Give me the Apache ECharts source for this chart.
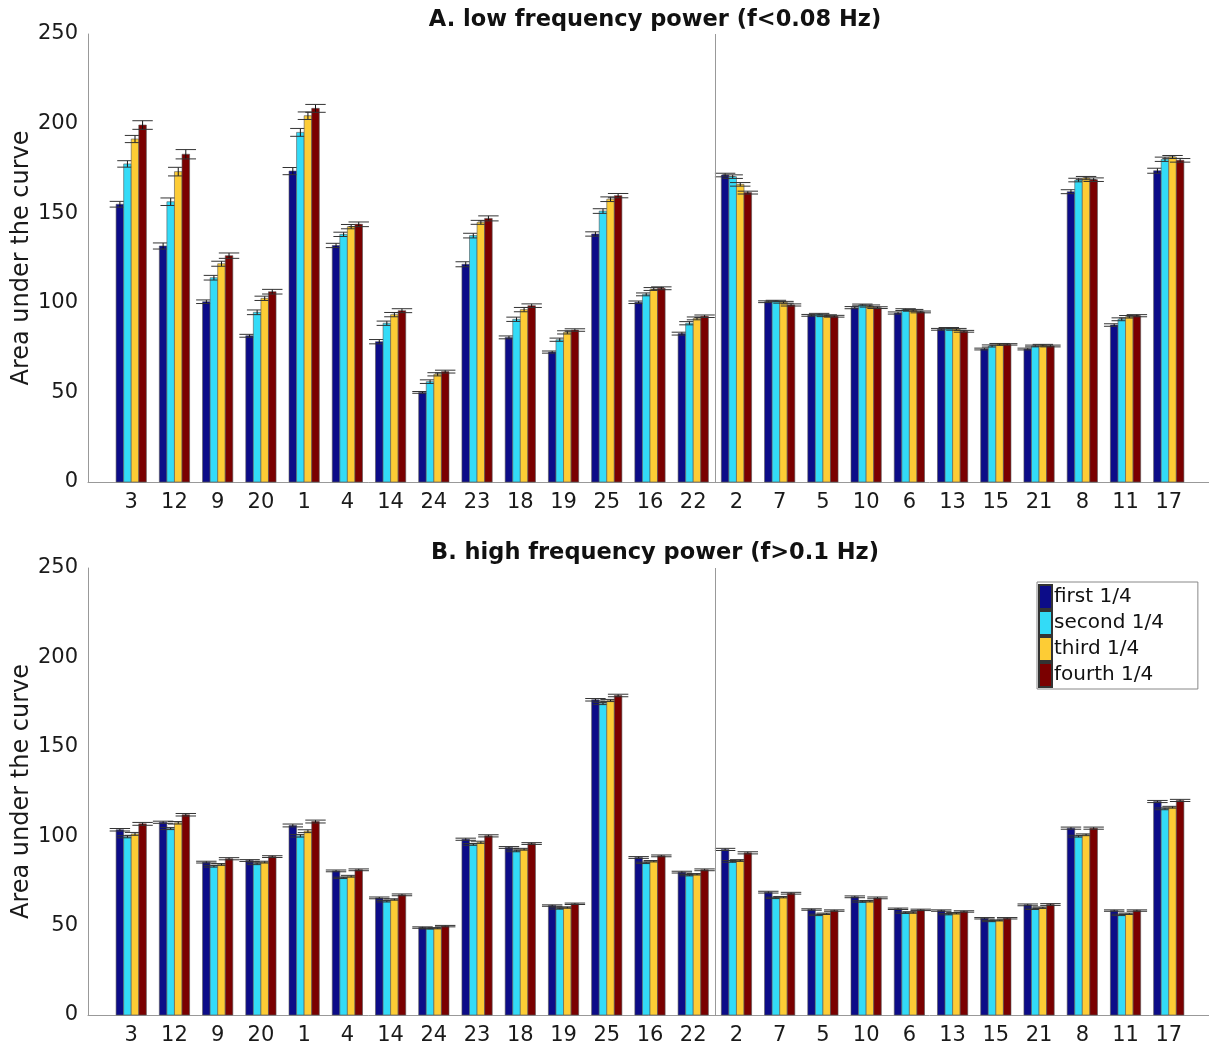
<!DOCTYPE html>
<html>
<head>
<meta charset="utf-8">
<script src="https://cdn.jsdelivr.net/npm/echarts@6/dist/echarts.min.js"></script>
<style>html,body{margin:0;padding:0;background:#fff}#c{width:1209px;height:1048px}</style>
</head>
<body>
<div id="c"></div>
<script>
var categories = ['3','12','9','20','1','4','14','24','23','18','19','25','16','22','2','7','5','10','6','13','15','21','8','11','17'];
var seriesNames = ['first 1/4','second 1/4','third 1/4','fourth 1/4'];
var seriesColors = ['#0c0c88','#33dbf7','#fdcc35','#7a0000'];
var yTicks = [0,50,100,150,200,250];
var dividerX = 14.5;
var titleA = 'A. low frequency power (f<0.08 Hz)';
var titleB = 'B. high frequency power (f>0.1 Hz)';
var yName = 'Area under the curve';

// Panel A: low frequency power
var lowQ1 = [155,131.7,100.6,81.6,173.5,132,78.3,50,121.5,80.7,72.5,138.4,100.3,82.8,171.3,100.6,93,97.3,94.3,85.2,74.2,74.2,162,87.6,173.7];
var lowQ2 = [177.5,156.4,114,94.7,195.1,138.2,88.6,56,137.5,90.8,79.4,151.2,104.7,88.6,170.4,101,93.6,98.8,96.2,85.8,75.9,75.9,168.5,90.8,180.1];
var lowQ3 = [191.4,173.2,121.8,102.5,204.4,142.5,93.4,60.1,144.9,96.2,83.5,157.8,107.7,91.3,166.1,100.3,92.8,98.2,95.8,85.2,76.8,76.3,169.6,92.2,181.4];
var lowQ4 = [199.2,182.9,126.3,106.2,208.5,143.8,95.6,61.6,147.1,98.4,84.8,159.8,108.1,92.5,161.5,98.8,92.5,97.3,94.9,84.1,76.8,75.9,168.7,92.8,179.5];
var lowE1 = [1.6,1.7,1,0.8,2,1.2,1.2,0.5,1.4,0.8,0.6,1.2,0.7,0.8,1,0.5,0.5,0.6,0.6,0.5,0.5,0.5,1.1,0.7,1.4];
var lowE2 = [1.8,2.1,1.3,1.3,2.2,1.2,1.2,1,1.3,1.2,0.9,1.3,0.8,0.9,1,0.4,0.5,0.5,0.5,0.4,0.6,0.5,1,0.8,1.2];
var lowE3 = [2,2.4,1.4,1.2,2.1,1.2,1.2,0.9,1.1,1.2,0.9,1.3,0.8,0.8,1,0.5,0.5,0.6,0.5,0.5,0.5,0.5,0.9,0.7,0.8];
var lowE4 = [2.4,2.6,1.5,1.3,2.2,1.3,1.1,0.8,1.4,1,0.7,1.2,0.8,0.7,0.8,0.6,0.5,0.5,0.5,0.5,0.4,0.5,1,0.6,1];

// Panel B: high frequency power
var highQ1 = [103.6,107.8,85.5,86.4,106,80.6,65.5,48.9,98.3,93.7,61.2,176.3,88.1,79.9,92.6,68.7,59,66.1,59.4,58.4,54.1,61.6,104.5,58.4,119.4];
var highQ2 = [99.7,104.3,83.2,84.6,100.2,76.7,63.6,48.4,95.4,91.8,59.6,174.2,85.1,78.2,85.9,65.5,56,63.5,57.2,56.4,52.5,59.4,100,56,115.3];
var highQ3 = [101.3,107.5,84.2,85.5,102.8,77.6,64.6,48.5,96.6,92.7,60.1,175.9,86,78.7,86.4,65.9,56.6,63.6,57.3,56.9,52.9,60,100.8,56.6,116.2];
var highQ4 = [106.9,112,87.4,88.6,108.2,81.2,67.2,49.7,100.2,95.9,62.2,178.7,89,81.2,90.7,68.1,58.4,65.5,58.8,57.9,54.1,61.8,104.5,58.4,120];
var highE1 = [0.7,0.6,0.5,0.5,0.8,0.5,0.5,0.4,0.6,0.5,0.4,0.7,0.5,0.5,0.6,0.5,0.4,0.5,0.4,0.4,0.4,0.5,0.6,0.4,0.6];
var highE2 = [0.6,0.6,0.5,0.5,0.7,0.4,0.4,0.3,0.5,0.5,0.4,0.6,0.4,0.4,0.5,0.4,0.4,0.4,0.4,0.4,0.3,0.4,0.5,0.4,0.5];
var highE3 = [0.8,0.7,0.5,0.5,0.8,0.5,0.4,0.3,0.6,0.5,0.4,0.6,0.4,0.4,0.5,0.4,0.4,0.4,0.4,0.4,0.3,0.4,0.5,0.4,0.5];
var highE4 = [0.8,0.7,0.6,0.5,0.8,0.5,0.5,0.4,0.6,0.5,0.4,0.7,0.5,0.5,0.6,0.5,0.4,0.5,0.4,0.4,0.4,0.5,0.6,0.4,0.6];

var FONT = 'DejaVu Sans, Liberation Sans, sans-serif';
var BAR_W = 0.175;          // bar width in x-units
var OFFSETS = [-1.5,-0.5,0.5,1.5];

function makeData(vals, errs){
  return vals.map(function(v,i){ return [i+1, v, errs[i]]; });
}

function makeRender(k){
  return function(params, api){
    var x = api.value(0) + OFFSETS[k]*BAR_W;
    var v = api.value(1), e = api.value(2);
    var top = api.coord([x, v]);
    var base = api.coord([x, 0]);
    var w = api.size([BAR_W, 0])[0];
    var hi = api.coord([x, v + e]);
    var lo = api.coord([x, v - e]);
    var capHalf = w * 1.35;
    var st = api.style();
    return {
      type: 'group',
      children: [
        {type:'rect', shape:{x: top[0]-w/2, y: top[1], width: w, height: base[1]-top[1]},
         style:{fill: st.fill, stroke:'#555', lineWidth:0.6}},
        {type:'line', shape:{x1: hi[0], y1: hi[1], x2: lo[0], y2: lo[1]}, style:{stroke:'#111', lineWidth:1}},
        {type:'line', shape:{x1: hi[0]-capHalf, y1: hi[1], x2: hi[0]+capHalf, y2: hi[1]}, style:{stroke:'#333', lineWidth:1}},
        {type:'line', shape:{x1: lo[0]-capHalf, y1: lo[1], x2: lo[0]+capHalf, y2: lo[1]}, style:{stroke:'#333', lineWidth:1}}
      ]
    };
  };
}

var lowSets = [[lowQ1,lowE1],[lowQ2,lowE2],[lowQ3,lowE3],[lowQ4,lowE4]];
var highSets = [[highQ1,highE1],[highQ2,highE2],[highQ3,highE3],[highQ4,highE4]];

var series = [];
[lowSets, highSets].forEach(function(sets, g){
  sets.forEach(function(s, k){
    var ser = {
      type:'custom', name: seriesNames[k], xAxisIndex:g, yAxisIndex:g,
      itemStyle:{color: seriesColors[k], borderColor:'#333', borderWidth:0.6},
      renderItem: makeRender(k), data: makeData(s[0], s[1]), clip:false,
      encode:{x:0, y:1}
    };
    if(k === 0){
      ser.markLine = {silent:true, symbol:['none','none'], label:{show:false},
        lineStyle:{color:'#999', width:1, type:'solid'},
        data:[[{xAxis: dividerX, yAxis: yTicks[0]},{xAxis: dividerX, yAxis: yTicks[yTicks.length-1]}]]};
    }
    series.push(ser);
  });
});

function xAxis(g){
  return {
    type:'value', gridIndex:g, min:0, max:26, interval:1,
    axisLine:{show:true, lineStyle:{color:'#999', width:1}},
    axisTick:{show:false}, splitLine:{show:false},
    axisLabel:{margin:10, fontSize:21, color:'#1a1a1a', fontFamily:FONT,
      formatter:function(v){ var i = Math.round(v); return (i>=1 && i<=categories.length) ? categories[i-1] : ''; }}
  };
}
function yAxis(g){
  return {
    type:'value', gridIndex:g, min:yTicks[0], max:yTicks[yTicks.length-1], interval:50,
    axisLine:{show:true, lineStyle:{color:'#999', width:1}},
    axisTick:{show:false}, splitLine:{show:false},
    axisLabel:{margin:10, fontSize:21, color:'#1a1a1a', fontFamily:FONT},
    name: yName, nameLocation:'middle', nameGap:54, nameRotate:90, nameMoveOverlap:false,
    nameTextStyle:{fontSize:24, color:'#1a1a1a', fontFamily:FONT}
  };
}

var chart = echarts.init(document.getElementById('c'), null, {renderer:'canvas'});
chart.setOption({
  animation:false,
  backgroundColor:'#fff',
  title:[
    {text:titleA, left:650, textAlign:'center', top:4, textStyle:{fontSize:22.5, fontWeight:'bold', color:'#111', fontFamily:FONT}},
    {text:titleB, left:650, textAlign:'center', top:537, textStyle:{fontSize:22.5, fontWeight:'bold', color:'#111', fontFamily:FONT}}
  ],
  legend:{
    data: seriesNames, orient:'vertical', left:1037, top:582,
    icon:'rect', itemWidth:13, itemHeight:24, itemGap:0,
    backgroundColor:'#fff', borderColor:'#888', borderWidth:1, padding:[2,34,1,1],
    textStyle:{fontSize:20, lineHeight:24, color:'#111', fontFamily:FONT, padding:[0,0,0,-3]},
    selectedMode:false
  },
  grid:[
    {left:88, top:34, width:1124, height:448, containLabel:false, outerBoundsMode:'none'},
    {left:88, top:568, width:1124, height:447, containLabel:false, outerBoundsMode:'none'}
  ],
  xAxis:[xAxis(0), xAxis(1)],
  yAxis:[yAxis(0), yAxis(1)],
  series: series
});
</script>
</body>
</html>
